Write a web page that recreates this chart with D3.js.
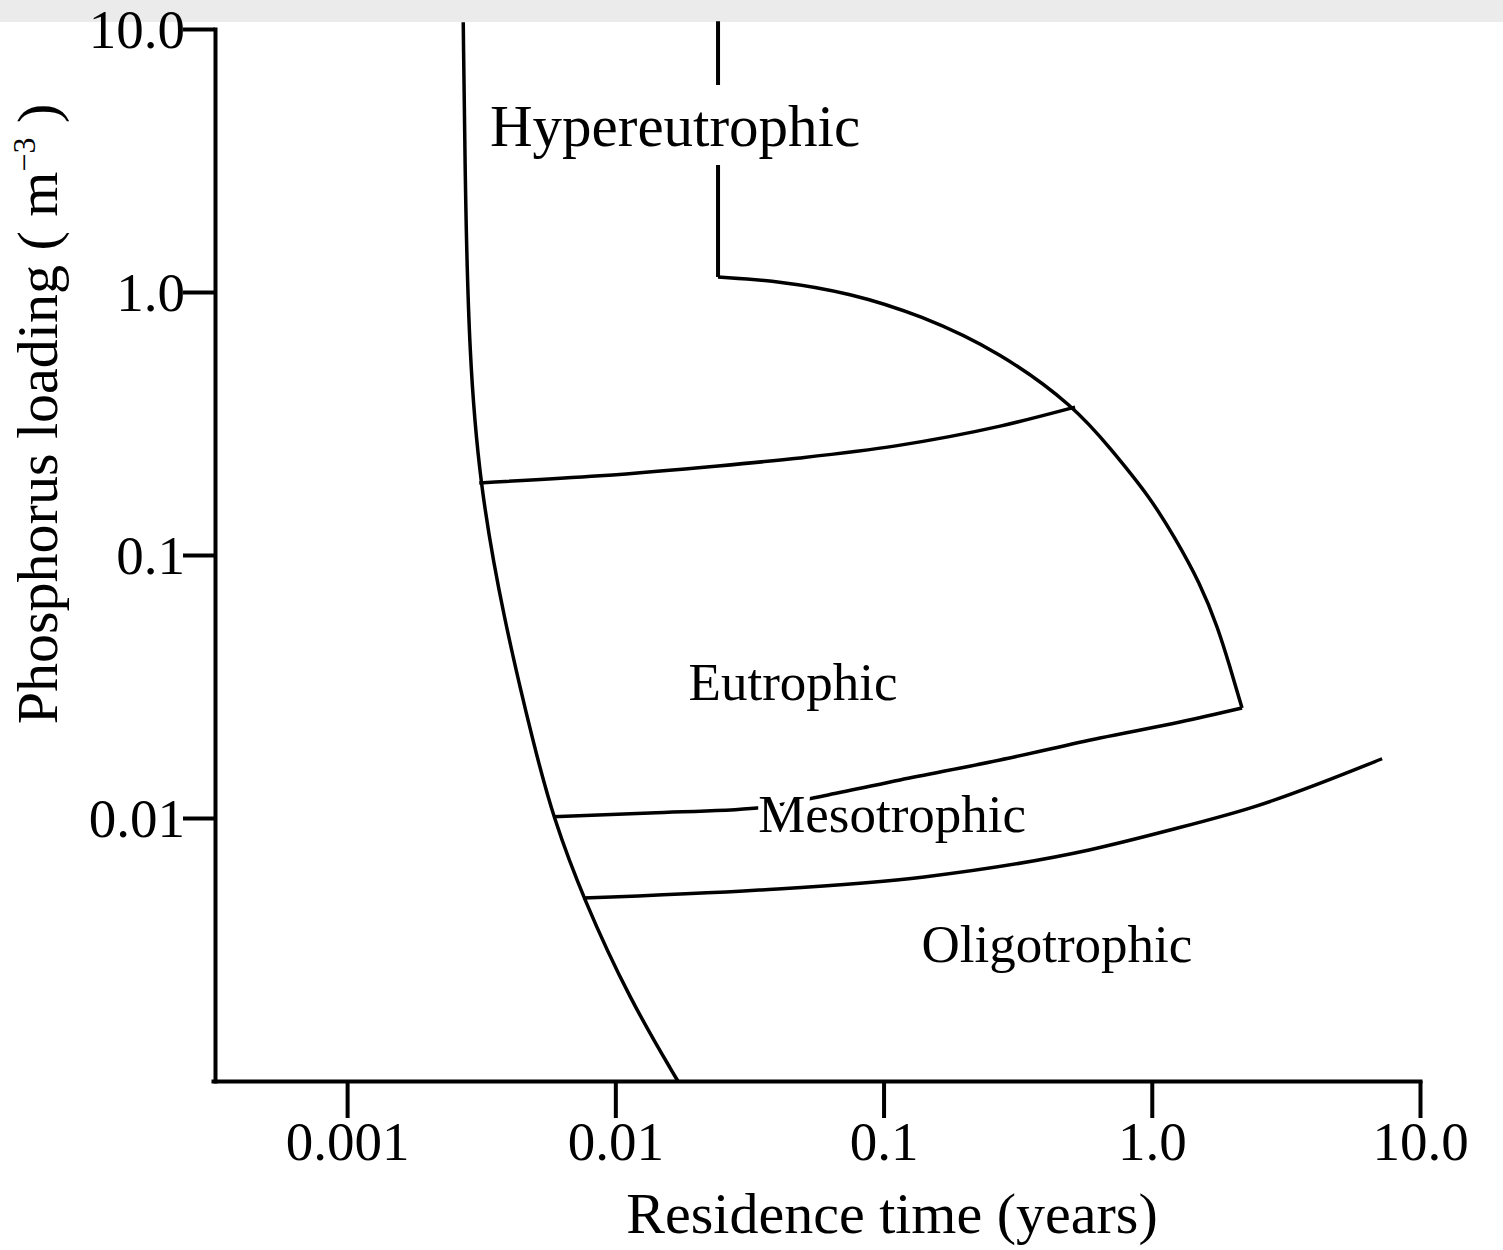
<!DOCTYPE html>
<html>
  <script src='https://d3js.org/d3.v7.min.js'></script>
  <style>
    body { margin: 0; background: #ffffff; }
  </style>
  <body onload='init()'>
<script>
      // ---------------------------
      // DATA  [residence time (years), phosphorus loading]
      // ---------------------------
      var leftBoundary = [[0.00271,10.6],[0.00276,2.24],[0.00285,0.60],[0.00311,0.188],[0.00382,0.058],
                          [0.00502,0.0181],[0.00586,0.0101],[0.00758,0.00496],[0.01135,0.00203],[0.0171,0.001]];
      var hyperLine = [[0.02415,10.7],[0.02415,1.14]];
      var outerBoundary = [[0.02415,1.14],[0.0411,1.10],[0.075,0.991],[0.137,0.818],[0.272,0.591],[0.5175,0.365],
                           [0.699,0.255],[0.985,0.166],[1.221,0.116],[1.513,0.0782],[1.766,0.0528],
                           [1.957,0.0375],[2.17,0.0262]];
      var eutroUpper = [[0.00311,0.188],[0.00877,0.200],[0.02415,0.218],[0.0488,0.234],[0.111,0.260],
                        [0.272,0.309],[0.5175,0.365]];
      var eutroLower = [[0.00586,0.0101],[0.01347,0.01045],[0.0338,0.01092],[0.0621,0.01224],[0.1152,0.01395],
                        [0.272,0.01662],[0.641,0.02015],[1.275,0.02317],[2.17,0.0262]];
      var mesoLower = [[0.00758,0.00496],[0.0344,0.00532],[0.1416,0.00597],[0.584,0.00756],[1.17,0.009],
                       [2.385,0.0110],[7.22,0.0168]];

      var regionNames = ["Hypereutrophic", "Eutrophic", "Mesotrophic", "Oligotrophic"];
      var regionT = [0.0167, 0.046, 0.1076, 0.443];
      var regionP = [3.59, 0.0281, 0.00885, 0.00284];

      var xTickValues = [0.001, 0.01, 0.1, 1, 10];
      var xTickLabels = ["0.001", "0.01", "0.1", "1.0", "10.0"];
      var yTickValues = [10, 1, 0.1, 0.01];
      var yTickLabels = ["10.0", "1.0", "0.1", "0.01"];

      function init() {

        // ---------------------------
        // CONSTANTS
        // ---------------------------
        var canvasWidth = 1503;
        var canvasHeight = 1250;
        var plotLeft = 213;
        var plotRight = 1420;
        var plotTop = 29;
        var plotBottom = 1081;
        var myFont = "'Liberation Serif', 'Times New Roman', serif";
        var tickFontSize = 55;
        var titleFontSize = 58;
        var regionFontSize = 53;
        var axisWidth = 4;
        var lineWidth = 3.5;

        var svg = d3.select("body")
          .append("svg")
          .attr("width", canvasWidth)
          .attr("height", canvasHeight);

        // scanned page edge at top
        svg.append("rect")
          .attr("x", 0).attr("y", 0)
          .attr("width", canvasWidth).attr("height", 22)
          .attr("fill", "#ebebeb");

        // scales (log / log)
        var x = d3.scaleLog().domain([Math.pow(10, -3.5), 10]).range([plotLeft, plotRight]);
        var y = d3.scaleLog().domain([0.001, 10]).range([plotBottom, plotTop]);

        // ---------------------------
        // AXES
        // ---------------------------
        var xAxis = svg.append("g")
          .attr("transform", "translate(0," + plotBottom + ")")
          .call(d3.axisBottom(x).tickValues(xTickValues).tickSize(37).tickSizeOuter(0)
                .tickFormat(function(d, i) { return xTickLabels[i]; }));
        xAxis.select(".domain").attr("stroke-width", axisWidth).attr("stroke-linecap", "square");
        xAxis.selectAll(".tick line").attr("stroke-width", axisWidth);
        xAxis.selectAll(".tick text")
          .attr("y", 79).attr("dy", 0)
          .attr("font-family", myFont).attr("font-size", tickFontSize).attr("fill", "#000");

        var yAxis = svg.append("g")
          .attr("transform", "translate(" + (plotLeft + 2) + ",0)")
          .call(d3.axisLeft(y).tickValues(yTickValues).tickSize(32).tickSizeOuter(0)
                .tickFormat(function(d, i) { return yTickLabels[i]; }));
        yAxis.select(".domain").attr("stroke-width", axisWidth).attr("stroke-linecap", "square");
        yAxis.selectAll(".tick line").attr("stroke-width", axisWidth);
        yAxis.selectAll(".tick text")
          .attr("x", -30).attr("dy", "0.34em")
          .attr("font-family", myFont).attr("font-size", tickFontSize).attr("fill", "#000");

        // axis titles
        svg.append("text")
          .attr("text-anchor", "middle")
          .attr("x", 892)
          .attr("y", 1233)
          .attr("font-family", myFont)
          .attr("font-size", titleFontSize)
          .text("Residence time (years)");

        var yTitle = svg.append("text")
          .attr("text-anchor", "middle")
          .attr("transform", "translate(57,414) rotate(-90)")
          .attr("font-family", myFont)
          .attr("font-size", titleFontSize);
        yTitle.append("tspan").text("Phosphorus loading ( m");
        yTitle.append("tspan").attr("font-size", 32).attr("dy", -22).text("\u22123");
        yTitle.append("tspan").attr("dy", 22).text(" )");

        // ---------------------------
        // BOUNDARY LINES
        // ---------------------------
        var smooth = d3.line()
          .x(function(d) { return x(d[0]); })
          .y(function(d) { return y(d[1]); })
          .curve(d3.curveBasis);

        var alongX = d3.line()
          .x(function(d) { return x(d[0]); })
          .y(function(d) { return y(d[1]); })
          .curve(d3.curveMonotoneX);

        var straight = d3.line()
          .x(function(d) { return x(d[0]); })
          .y(function(d) { return y(d[1]); });

        var boundaries = svg.append("g")
          .attr("fill", "none")
          .attr("stroke", "#000")
          .attr("stroke-width", lineWidth)
          .attr("stroke-linejoin", "round");

        boundaries.append("path").attr("d", smooth(leftBoundary));
        boundaries.append("path").attr("d", smooth(outerBoundary));

        boundaries.selectAll("path.h")
          .data([eutroUpper, eutroLower, mesoLower])
          .enter()
          .append("path")
          .attr("class", "h")
          .attr("d", alongX);

        boundaries.append("path")
          .attr("d", straight(hyperLine))
          .attr("stroke-width", lineWidth + 0.5);

        // ---------------------------
        // REGION LABELS
        // ---------------------------
        var labels = svg.append("g")
          .selectAll("g")
          .data(regionNames)
          .enter()
          .append("g");

        labels.append("text")
          .attr("text-anchor", "middle")
          .attr("x", function(d, i) { return x(regionT[i]); })
          .attr("y", function(d, i) { return y(regionP[i]); })
          .attr("font-family", myFont)
          .attr("font-size", function(d, i) { return i === 0 ? 59 : regionFontSize; })
          .text(function(d) { return d; });

        // white box behind the first label breaks the vertical line
        labels.each(function(d, i) {
          var g = d3.select(this);
          var box = g.select("text").node().getBBox();
          if (i === 0) {
            g.insert("rect", "text")
              .attr("x", box.x - 6).attr("y", box.y - 8)
              .attr("width", box.width + 12).attr("height", box.height + 14)
              .attr("fill", "#fff");
          }
        });
        labels.select("text")
          .attr("stroke", "#fff")
          .attr("stroke-width", 12)
          .attr("paint-order", "stroke")
          .attr("stroke-linejoin", "round");
      }
    </script>
  </body>
</html>
